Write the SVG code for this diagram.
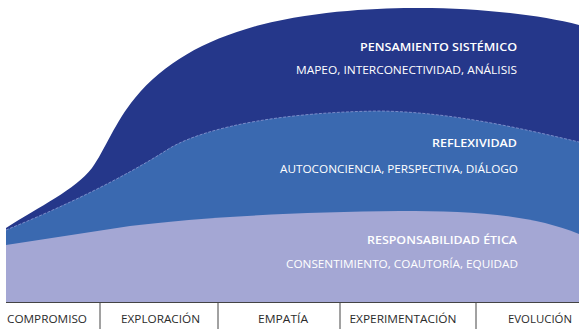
<svg xmlns="http://www.w3.org/2000/svg" width="579" height="329" viewBox="0 0 579 329">
<style>
.title{font-family:"Open Sans","Liberation Sans",sans-serif;font-size:10.5px;font-weight:600;fill:#ffffff;text-anchor:end}
.sub{font-family:"Open Sans","Liberation Sans",sans-serif;font-size:10.2px;font-weight:400;fill:#ffffff;text-anchor:end}
.axis{font-family:"Open Sans","Liberation Sans",sans-serif;font-size:10px;font-weight:400;fill:#2b2b2b;text-anchor:middle}
.tick{stroke:#444444;stroke-width:1}
</style>
<rect width="579" height="329" fill="#ffffff"/>
<g id="layer-pensamiento">
<path d="M6,228 C40,206 75,190 92,168 C105,150 115,122 135,98 C165,62 205,40 260,25 C320,10 380,8 420,8 C480,8 540,15 579,25 L579,302 L6,302 Z" fill="#25378a"/>
<text class="title" x="517" y="51" textLength="157" lengthAdjust="spacingAndGlyphs">PENSAMIENTO SISTÉMICO</text>
<text class="sub" x="517" y="74" textLength="221" lengthAdjust="spacingAndGlyphs">MAPEO, INTERCONECTIVIDAD, ANÁLISIS</text>
</g>
<g id="layer-reflexividad">
<path d="M6,230 C60,208 120,180 170,148 C210,125 290,112 380,111 C450,112 520,128 579,142 L579,302 L6,302 Z" fill="#3a69b0"/>
<path d="M6,230 C60,208 120,180 170,148 C210,125 290,112 380,111 C450,112 520,128 579,142" fill="none" stroke="#8d9bd3" stroke-width="0.8" stroke-dasharray="3 1.5"/>
<text class="title" x="517" y="147" textLength="85" lengthAdjust="spacingAndGlyphs">REFLEXIVIDAD</text>
<text class="sub" x="518" y="173" textLength="238" lengthAdjust="spacingAndGlyphs">AUTOCONCIENCIA, PERSPECTIVA, DIÁLOGO</text>
</g>
<g id="layer-responsabilidad">
<path d="M6,245 L130,226 C200,217 300,212 400,211 C470,211 530,214 579,234 L579,302 L6,302 Z" fill="#a4a7d4"/>
<text class="title" x="517" y="244" textLength="150" lengthAdjust="spacingAndGlyphs">RESPONSABILIDAD ÉTICA</text>
<text class="sub" x="518" y="268" textLength="232" lengthAdjust="spacingAndGlyphs">CONSENTIMIENTO, COAUTORÍA, EQUIDAD</text>
</g>
<g id="connectors">
<line class="tick" x1="6" y1="302.5" x2="579" y2="302.5" stroke-width="1.4"/>
<line class="tick" x1="100" y1="302" x2="100" y2="329"/>
<line class="tick" x1="218" y1="302" x2="218" y2="329"/>
<line class="tick" x1="340" y1="302" x2="340" y2="329"/>
<line class="tick" x1="476" y1="302" x2="476" y2="329"/>
</g>
<g id="axis-labels">
<text class="axis" x="47" y="323" textLength="80" lengthAdjust="spacingAndGlyphs">COMPROMISO</text>
<text class="axis" x="160.5" y="323" textLength="79" lengthAdjust="spacingAndGlyphs">EXPLORACIÓN</text>
<text class="axis" x="283" y="323" textLength="50" lengthAdjust="spacingAndGlyphs">EMPATÍA</text>
<text class="axis" x="403" y="323" textLength="107" lengthAdjust="spacingAndGlyphs">EXPERIMENTACIÓN</text>
<text class="axis" x="540" y="323" textLength="64" lengthAdjust="spacingAndGlyphs">EVOLUCIÓN</text>
</g>
</svg>
